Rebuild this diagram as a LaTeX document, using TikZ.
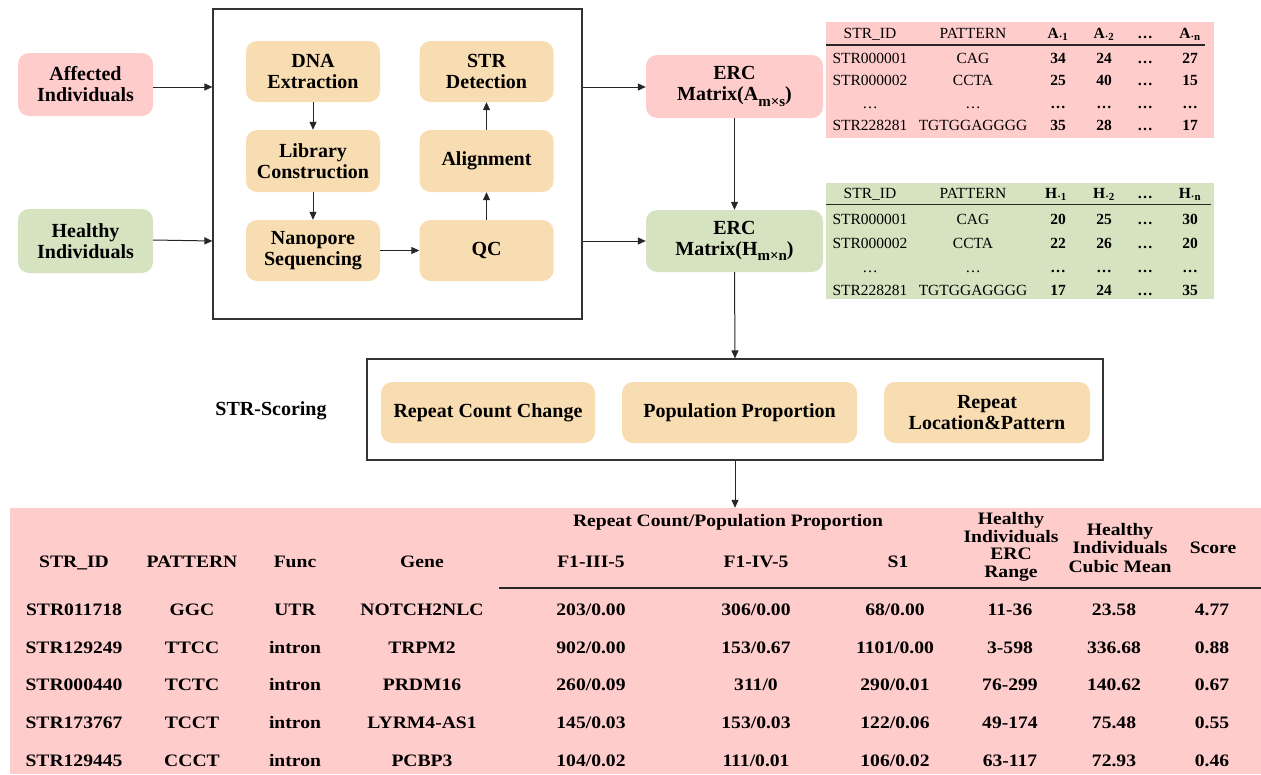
\documentclass[tikz,border=0pt]{standalone}
\usepackage{fontspec}
\setmainfont{Liberation Serif}
\newfontfamily\tabfont{Liberation Serif}[FakeStretch=1.12]
\usetikzlibrary{arrows.meta}
\definecolor{pinkfill}{RGB}{255,204,204}
\definecolor{greenfill}{RGB}{214,227,193}
\definecolor{orangefill}{RGB}{249,221,178}
\newcommand{\ercsub}[1]{\raisebox{-0.28em}{\fontsize{15}{15}\selectfont #1}}
\tikzset{
  rbox/.style={rounded corners=11pt, align=center, inner sep=0pt,
    font=\fontsize{20}{21}\selectfont\bfseries},
  stepbox/.style={rbox, fill=orangefill, minimum width=134pt, minimum height=61pt},
  frame/.style={draw=black!80, line width=1.2pt, inner sep=0pt},
  arr/.style={-{Triangle[length=8pt,width=7pt]}, line width=1pt, draw=black!85},
  ttx/.style={inner sep=0pt, anchor=base, font=\fontsize{15.5}{17}\selectfont},
  tbx/.style={ttx, font=\fontsize{15.5}{17}\selectfont\bfseries},
  btx/.style={inner sep=0pt, anchor=base, font=\tabfont\fontsize{17.5}{18}\selectfont\bfseries},
}
\begin{document}
\begin{tikzpicture}[x=1pt,y=-1pt]
\useasboundingbox (0,0) rectangle (1261,774);

% inputs
\node[rbox, fill=pinkfill, minimum width=135pt, minimum height=63pt] (aff) at (85.5,84.5) {Affected\\Individuals};
\node[rbox, fill=greenfill, minimum width=135pt, minimum height=64pt] (hea) at (85.5,241) {Healthy\\Individuals};

% pipeline frame
\node[frame, minimum width=369pt, minimum height=310pt] (big) at (397.5,164) {};
\node[stepbox] (dna) at (313,71.5) {DNA\\Extraction};
\node[stepbox, minimum height=62pt] (lib) at (313,161) {Library\\Construction};
\node[stepbox] (nano) at (313,250.5) {Nanopore\\Sequencing};
\node[stepbox] (det) at (486.5,71.5) {STR\\Detection};
\node[stepbox, minimum height=62pt] (ali) at (486.5,161) {Alignment};
\node[stepbox] (qc) at (486.5,250.5) {QC};

% ERC matrices
\node[rbox, fill=pinkfill, minimum width=177pt, minimum height=63pt] (ercA) at (734.5,86.5) {ERC\\Matrix(A\ercsub{m×s})};
\node[rbox, fill=greenfill, minimum width=177pt, minimum height=62pt] (ercH) at (734.5,241) {ERC\\Matrix(H\ercsub{m×n})};

% scoring
\node[frame, minimum width=736pt, minimum height=101pt] (score) at (735,409.5) {};
\node[inner sep=0pt, font=\fontsize{20}{21}\selectfont\bfseries] (slabel) at (271,411) {STR-Scoring};
\node[rbox, fill=orangefill, minimum width=214pt, minimum height=61pt] (rcc) at (488,412.5) {Repeat Count Change};
\node[rbox, fill=orangefill, minimum width=235pt, minimum height=61pt] (pp) at (739.5,412.5) {Population Proportion};
\node[rbox, fill=orangefill, minimum width=206pt, minimum height=61pt] (rlp) at (987,412.5) {Repeat\\Location\&Pattern};

% connectors
\draw[arr] (aff.east |- 0,87) -- (big.west |- 0,87);
\draw[arr] (hea.east |- 0,240) -- (big.west |- 0,241);
\draw[arr] (big.east |- 0,87) -- (ercA.west |- 0,87);
\draw[arr] (big.east |- 0,241) -- (ercH.west |- 0,241);
\draw[arr] (dna.south) -- (lib.north);
\draw[arr] (lib.south) -- (nano.north);
\draw[arr] (nano.east) -- (qc.west);
\draw[arr] (qc.north) -- (ali.south);
\draw[arr] (ali.north) -- (det.south);
\draw[arr] (ercA.south) -- (ercH.north);
\draw[arr] (ercH.south) -- (score.north);

% ---------- table A ----------
\node[fill=pinkfill, minimum width=388pt, minimum height=116pt, inner sep=0pt] (tabA) at (1020,80) {};
\draw[line width=1.1pt, black!85] (tabA.west |- 0,45) -- (1205,45);
\node[ttx] (a01) at (870,38.5) {STR\_ID};
\node[ttx] (a02) at (973,38.5) {PATTERN};
\node[tbx] (a03) at (1058,38.5) {A\textsubscript{·1}};
\node[tbx] (a04) at (1104,38.5) {A\textsubscript{·2}};
\node[tbx] (a05) at (1145,38.5) {…};
\node[tbx] (a06) at (1190,38.5) {A\textsubscript{·n}};
\foreach \r/\y/\id/\pat/\va/\vb/\vc/\vd in {
  1/63/STR000001/CAG/34/24/…/27,
  2/85.5/STR000002/CCTA/25/40/…/15,
  3/108/…/…/…/…/…/…,
  4/130.5/STR228281/TGTGGAGGGG/35/28/…/17}{
  \node[ttx] (a\r1) at (870,\y) {\id};
  \node[ttx] (a\r2) at (973,\y) {\pat};
  \node[tbx] (a\r3) at (1058,\y) {\va};
  \node[tbx] (a\r4) at (1104,\y) {\vb};
  \node[tbx] (a\r5) at (1145,\y) {\vc};
  \node[tbx] (a\r6) at (1190,\y) {\vd};
}

% ---------- table H ----------
\node[fill=greenfill, minimum width=388pt, minimum height=116pt, inner sep=0pt] (tabH) at (1020,241) {};
\draw[line width=1.1pt, black!85] (tabH.west |- 0,204.5) -- (1211,204.5);
\node[ttx] (h01) at (870,198.5) {STR\_ID};
\node[ttx] (h02) at (973,198.5) {PATTERN};
\node[tbx] (h03) at (1056,198.5) {H\textsubscript{·1}};
\node[tbx] (h04) at (1104,198.5) {H\textsubscript{·2}};
\node[tbx] (h05) at (1145,198.5) {…};
\node[tbx] (h06) at (1190,198.5) {H\textsubscript{·n}};
\foreach \r/\y/\id/\pat/\va/\vb/\vc/\vd in {
  1/224/STR000001/CAG/20/25/…/30,
  2/248/STR000002/CCTA/22/26/…/20,
  3/272/…/…/…/…/…/…,
  4/295.5/STR228281/TGTGGAGGGG/17/24/…/35}{
  \node[ttx] (h\r1) at (870,\y) {\id};
  \node[ttx] (h\r2) at (973,\y) {\pat};
  \node[tbx] (h\r3) at (1058,\y) {\va};
  \node[tbx] (h\r4) at (1104,\y) {\vb};
  \node[tbx] (h\r5) at (1145,\y) {\vc};
  \node[tbx] (h\r6) at (1190,\y) {\vd};
}

% ---------- bottom table ----------
\node[fill=pinkfill, minimum width=1251pt, minimum height=266pt, inner sep=0pt] (btab) at (635.5,641) {};
\draw[arr] (score.south) -- (score.south |- btab.north);
\draw[line width=1.1pt, black!85] (499,588) -- (btab.east |- 0,588);
\node[btx] (bh0) at (728,526) {Repeat Count/Population Proportion};
\foreach \t/\x [count=\c] in {STR\_ID/74, PATTERN/192, Func/295, Gene/422, F1-III-5/591, F1-IV-5/756, S1/898}{
  \node[btx] (bh\c) at (\x,567) {\t};
}
\node[inner sep=0pt, align=center, font=\tabfont\fontsize{17.5}{17.5}\selectfont\bfseries] (bh8) at (1011,547) {Healthy\\Individuals\\ERC\\Range};
\node[inner sep=0pt, align=center, font=\tabfont\fontsize{17.5}{18.5}\selectfont\bfseries] (bh9) at (1120,548) {Healthy\\Individuals\\Cubic Mean};
\node[inner sep=0pt, font=\tabfont\fontsize{17.5}{18}\selectfont\bfseries] (bh10) at (1213,548) {Score};
\foreach \r/\y/\ca/\cb/\cc/\cd/\ce/\cf/\cg/\ch/\ci/\cj in {
  1/615.5/STR011718/GGC/UTR/NOTCH2NLC/203\slash 0.00/306\slash 0.00/68\slash 0.00/11-36/23.58/4.77,
  2/653/STR129249/TTCC/intron/TRPM2/902\slash 0.00/153\slash 0.67/1101\slash 0.00/3-598/336.68/0.88,
  3/690.7/STR000440/TCTC/intron/PRDM16/260\slash 0.09/311\slash 0/290\slash 0.01/76-299/140.62/0.67,
  4/728.3/STR173767/TCCT/intron/LYRM4-AS1/145\slash 0.03/153\slash 0.03/122\slash 0.06/49-174/75.48/0.55,
  5/766/STR129445/CCCT/intron/PCBP3/104\slash 0.02/111\slash 0.01/106\slash 0.02/63-117/72.93/0.46}{
  \node[btx] (b\r a) at (74,\y) {\ca};
  \node[btx] (b\r b) at (192,\y) {\cb};
  \node[btx] (b\r c) at (295,\y) {\cc};
  \node[btx] (b\r d) at (422,\y) {\cd};
  \node[btx] (b\r e) at (591,\y) {\ce};
  \node[btx] (b\r f) at (756,\y) {\cf};
  \node[btx] (b\r g) at (895,\y) {\cg};
  \node[btx] (b\r h) at (1010,\y) {\ch};
  \node[btx] (b\r i) at (1114,\y) {\ci};
  \node[btx] (b\r j) at (1212,\y) {\cj};
}
\end{tikzpicture}
\end{document}
